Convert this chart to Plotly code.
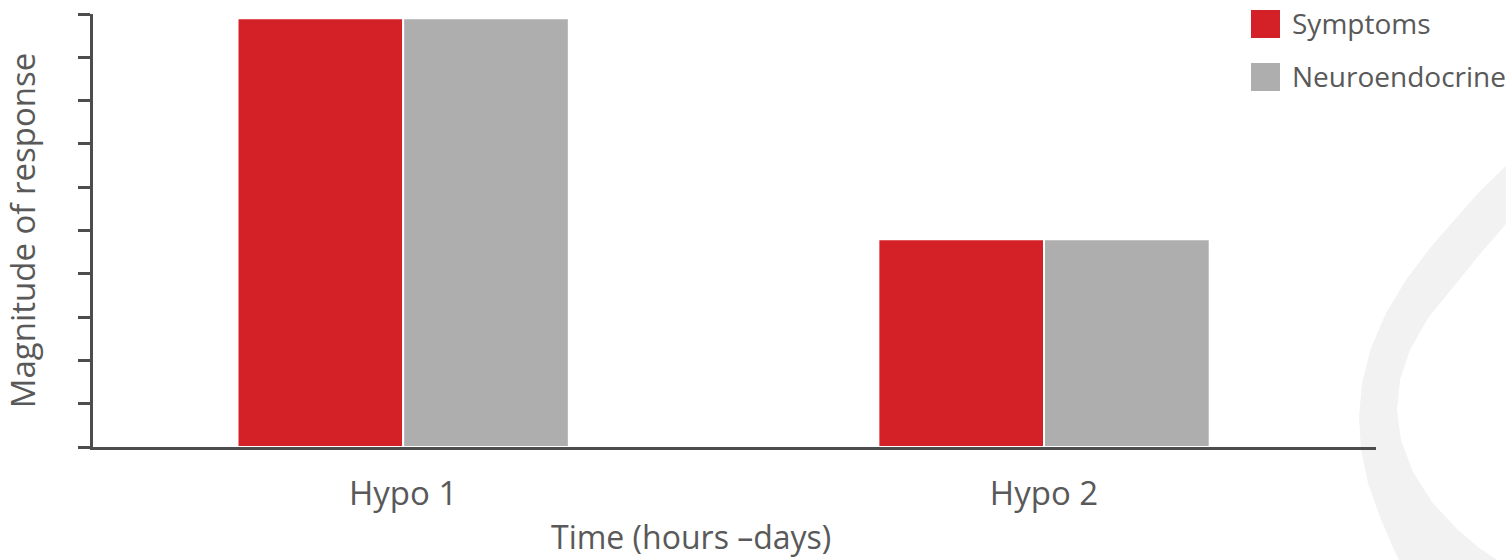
import plotly.graph_objects as go

# Data
categories = ["Hypo 1", "Hypo 2"]
series_names = ["Symptoms", "Neuroendocrine"]
symptoms = [9.9, 4.8]
neuroendocrine = [9.9, 4.8]
series_colors = ["#D42027", "#AEAEAF"]
x_title = "Time (hours –days)"
y_title = "Magnitude of response"

W, H = 1506, 560
L, R, T, B = 93, 130, 14, 113
FONT = "Open Sans"
TEXT = "#595959"
AXIS = "#4D4D4F"


def px_x(x):
    return (x - L) / (W - L - R)


def px_y(y):
    return (H - B - y) / (H - T - B)


fig = go.Figure()
for name, vals, col in zip(series_names, [symptoms, neuroendocrine], series_colors):
    fig.add_trace(go.Bar(
        x=[0, 1], y=vals, name=name,
        marker=dict(color=col, line=dict(color="white", width=2)),
        showlegend=False,
    ))

shapes = []
annotations = []

# Decorative light arc on the right side
outer = [(1506, 166), (1480, 191), (1457, 217), (1430, 248), (1406, 280),
         (1386, 313), (1371, 348), (1362, 383), (1359, 417), (1361, 450),
         (1368, 483), (1380, 517), (1394, 550), (1400, 562)]
inner = [(1500, 562), (1478, 547), (1456, 528), (1432, 502), (1413, 472),
         (1401, 440), (1397, 410), (1400, 380), (1410, 350), (1428, 318),
         (1455, 285), (1480, 254), (1506, 224)]
pts = outer + inner
path = "M " + " L ".join(f"{px_x(x):.5f},{px_y(y):.5f}" for x, y in pts) + " Z"
shapes.append(dict(type="path", xref="paper", yref="paper", path=path,
                   fillcolor="#F2F2F2", line=dict(width=0), layer="below"))

# Legend: colour squares with labels
for i, (name, col) in enumerate(zip(series_names, series_colors)):
    y0 = 10 + i * 53
    shapes.append(dict(type="rect", xref="paper", yref="paper",
                       x0=px_x(1251), x1=px_x(1280), y0=px_y(y0 + 28), y1=px_y(y0),
                       fillcolor=col, line=dict(width=0)))
    annotations.append(dict(xref="paper", yref="paper", x=px_x(1290), y=px_y(y0 + 13),
                            text=name, showarrow=False, xanchor="left", yanchor="middle",
                            font=dict(family=FONT, size=28, color=TEXT)))

# Horizontal axis title
annotations.append(dict(xref="paper", yref="paper", x=px_x(691), y=px_y(536),
                        text=x_title, showarrow=False, xanchor="center", yanchor="middle",
                        font=dict(family=FONT, size=32, color=TEXT)))

fig.update_layout(
    width=W, height=H,
    margin=dict(l=L, r=R, t=T, b=B),
    paper_bgcolor="white", plot_bgcolor="rgba(0,0,0,0)",
    barmode="group", bargap=0.483, bargroupgap=0,
    font=dict(family=FONT, size=33, color=TEXT),
    shapes=shapes, annotations=annotations,
    xaxis=dict(
        range=[-0.484, 1.518], showline=True, linecolor=AXIS, linewidth=3,
        tickmode="array", tickvals=[0, 1], ticktext=categories,
        ticks="outside", ticklen=15, tickcolor="rgba(0,0,0,0)",
        showgrid=False, zeroline=False, automargin=False,
        tickfont=dict(family=FONT, size=33, color=TEXT),
    ),
    yaxis=dict(
        range=[0, 10], dtick=1, showline=True, linecolor=AXIS, linewidth=3,
        ticks="outside", ticklen=12, tickwidth=3, tickcolor=AXIS,
        showticklabels=False, showgrid=False, zeroline=False, automargin=False,
        title=dict(text=y_title, standoff=34,
                   font=dict(family=FONT, size=33, color=TEXT)),
    ),
)

fig.write_html("out.html")
